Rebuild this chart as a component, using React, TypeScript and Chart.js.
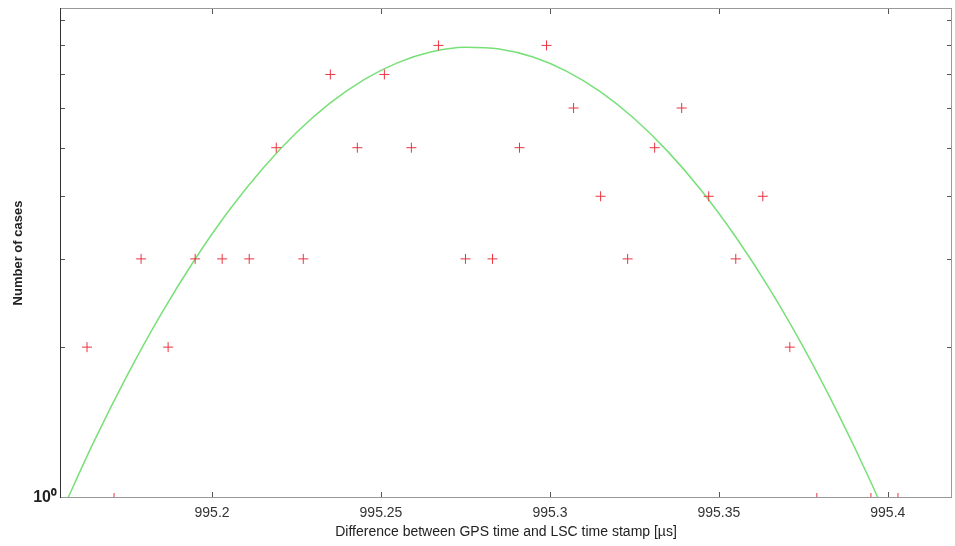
import React, { useEffect, useRef } from "react";
import { Chart, registerables } from "chart.js";

Chart.register(...registerables);

// Measured points (x = time difference in µs, count = number of cases; 0 = no mark on log axis)
const xValues = [
  995.155, 995.163, 995.171, 995.179, 995.187, 995.195, 995.203, 995.211, 995.219,
  995.227, 995.235, 995.243, 995.251, 995.259, 995.267, 995.275, 995.283, 995.291,
  995.299, 995.307, 995.315, 995.323, 995.331, 995.339, 995.347, 995.355, 995.363,
  995.371, 995.379, 995.387, 995.395, 995.403, 995.411, 995.419,
];
const caseCounts = [
  1, 2, 1, 3, 2, 3, 3, 3, 5, 3, 7, 5, 7, 5, 8, 3, 3, 5, 8, 6, 4, 3, 5, 6, 4, 3, 4, 2, 1, 0, 1, 1, 0, 1,
];

// Fitted curve
const fitX = [
  995.155, 995.165, 995.175, 995.185, 995.195, 995.205, 995.215, 995.225, 995.235,
  995.245, 995.255, 995.265, 995.275, 995.285, 995.295, 995.305, 995.315, 995.325,
  995.335, 995.345, 995.355, 995.365, 995.375, 995.385, 995.395, 995.405,
];
const fitY = [
  0.923, 1.294, 1.762, 2.332, 2.998, 3.746, 4.546, 5.361, 6.141,
  6.836, 7.393, 7.771, 7.934, 7.87, 7.584, 7.101, 6.461, 5.711,
  4.905, 4.093, 3.317, 2.614, 2.0, 1.487, 1.075, 0.754,
];

const xTickValues = [995.2, 995.25, 995.3, 995.35, 995.4];
const xTickLabels = ["995.2", "995.25", "995.3", "995.35", "995.4"];
const yTickValues = [1, 2, 3, 4, 5, 6, 7, 8, 9];
const yTickLabels = ["10\u2070", "", "", "", "", "", "", "", ""];

const X_MIN = 995.155;
const X_MAX = 995.419;
const Y_MIN = 1;
const Y_MAX = 9.5;

const FONT = "'Liberation Sans', Arial, Helvetica, sans-serif";

const frameTicks = {
  id: "frameTicks",
  afterDraw(chart: any) {
    const { ctx, chartArea } = chart;
    const { left, right, top, bottom } = chartArea;
    const xs = chart.scales.x;
    const ys = chart.scales.y;
    const line = (x1: number, y1: number, x2: number, y2: number) => {
      ctx.beginPath();
      ctx.moveTo(x1, y1);
      ctx.lineTo(x2, y2);
      ctx.stroke();
    };
    ctx.save();
    ctx.lineWidth = 1;
    ctx.strokeStyle = "#555";
    xs.ticks.forEach((t: any) => {
      const px = Math.round(xs.getPixelForValue(t.value)) + 0.5;
      line(px, bottom, px, bottom - 6);
      line(px, top, px, top + 6);
    });
    ys.ticks.forEach((t: any) => {
      if (t.value === 1) return;
      const py = Math.round(ys.getPixelForValue(t.value)) + 0.5;
      line(left, py, left + 5, py);
      line(right, py, right - 5, py);
    });
    ctx.strokeStyle = "#999";
    line(left, top + 0.5, right, top + 0.5);
    line(right - 0.5, top, right - 0.5, bottom);
    line(left, bottom - 0.5, right, bottom - 0.5);
    ctx.strokeStyle = "#333";
    line(left + 0.5, top, left + 0.5, bottom);
    ctx.restore();
  },
};

export default function App() {
  const canvasRef = useRef<HTMLCanvasElement>(null);

  useEffect(() => {
    const canvas = canvasRef.current;
    if (!canvas) return;
    const points = xValues
      .map((x, i) => ({ x, y: caseCounts[i] > 0 ? caseCounts[i] : null }))
      .filter((p) => p.y !== null);
    const fit = fitX.map((x, i) => ({ x, y: fitY[i] }));

    const chart = new Chart(canvas, {
      type: "scatter",
      data: {
        datasets: [
          {
            label: "fit",
            data: fit,
            showLine: true,
            borderColor: "#78e078",
            borderWidth: 1.5,
            pointRadius: 0,
            cubicInterpolationMode: "monotone",
            order: 2,
          } as any,
          {
            label: "cases",
            data: points,
            showLine: false,
            pointStyle: "cross",
            pointRadius: 5,
            pointBorderWidth: 1,
            borderColor: "#ec3440",
            backgroundColor: "#ec3440",
            order: 1,
          } as any,
        ],
      },
      options: {
        responsive: false,
        animation: false,
        layout: { autoPadding: false, padding: { top: 8, right: 3, left: 0, bottom: 0 } },
        plugins: {
          legend: { display: false },
          tooltip: { enabled: false },
        },
        scales: {
          x: {
            type: "linear",
            min: X_MIN,
            max: X_MAX,
            afterBuildTicks: (s: any) => {
              s.ticks = xTickValues.map((v) => ({ value: v }));
            },
            afterFit: (s: any) => {
              s.height = 48;
              s.paddingLeft = 0;
              s.paddingRight = 0;
            },
            grid: { display: false, drawTicks: false },
            border: { display: false },
            ticks: {
              autoSkip: false,
              maxRotation: 0,
              padding: 7,
              color: "#333",
              font: { family: FONT, size: 14 },
              callback: (_v: any, i: number) => xTickLabels[i],
            },
            title: {
              display: true,
              text: "Difference between GPS time and LSC time stamp [\u00b5s]",
              color: "#222",
              font: { family: FONT, size: 14 },
              padding: { top: 0, bottom: 5 },
            },
          },
          y: {
            type: "logarithmic",
            min: Y_MIN,
            max: Y_MAX,
            afterBuildTicks: (s: any) => {
              s.ticks = yTickValues.map((v) => ({ value: v }));
            },
            afterFit: (s: any) => {
              s.width = 60;
              s.paddingTop = 0;
              s.paddingBottom = 0;
            },
            grid: { display: false, drawTicks: false },
            border: { display: false },
            ticks: {
              autoSkip: false,
              padding: 3,
              color: "#222",
              font: { family: FONT, size: 16, weight: "bold" },
              callback: (_v: any, i: number) => yTickLabels[i],
            },
            title: {
              display: true,
              text: "Number of cases",
              color: "#222",
              font: { family: FONT, size: 13, weight: "bold" },
              padding: { top: 11, bottom: 0 },
            },
          },
        },
      } as any,
      plugins: [frameTicks],
    });
    return () => chart.destroy();
  }, []);

  return (
    <div style={{ position: "absolute", left: 0, top: 0, width: 955, height: 546, background: "#fff" }}>
      <canvas ref={canvasRef} width={955} height={546} style={{ display: "block" }} />
    </div>
  );
}
